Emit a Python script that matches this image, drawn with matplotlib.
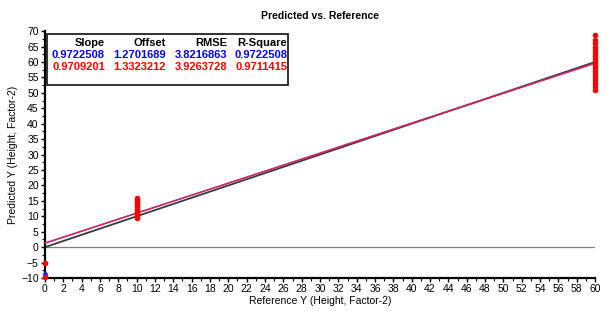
import matplotlib
matplotlib.use("Agg")
import matplotlib.pyplot as plt
from matplotlib.ticker import MultipleLocator
from matplotlib.patches import Rectangle

plt.rcParams['font.family'] = ['Liberation Sans', 'DejaVu Sans']

title = "Predicted vs. Reference"
xlabel = "Reference Y (Height, Factor-2)"
ylabel = "Predicted Y (Height, Factor-2)"

table_headers = ["Slope", "Offset", "RMSE", "R-Square"]
blue_stats = ["0.9722508", "1.2701689", "3.8216863", "0.9722508"]
red_stats = ["0.9709201", "1.3323212", "3.9263728", "0.9711415"]

blue_slope, blue_offset = 0.9722508, 1.2701689
red_slope, red_offset = 0.9709201, 1.3323212

blue_x = [0, 60, 60]
blue_y = [-8.7, 53.6, 56.7]
red_x = [0, 0] + [10] * 14 + [60] * 18
red_y = ([-5.2, -9.6]
         + [9.5, 10, 10.5, 11, 11.5, 12, 12.5, 13, 13.5, 14, 14.5, 15, 15.5, 16]
         + [50.8, 52, 53, 54, 55, 56, 57, 58, 59, 60, 61, 62, 63, 64, 65, 66, 67, 68.6])

xmin, xmax = 0, 60
ymin, ymax = -10, 70

fig = plt.figure(figsize=(6.16, 3.11), dpi=100)
ax = fig.add_axes([0.073, 0.106, 0.893, 0.794])

ax.plot([xmin, xmax], [0, 0], color='#808080', lw=0.9, zorder=1)
ax.plot([xmin, xmax], [xmin, xmax], color='#3a3a3a', lw=1.3, zorder=2)
ax.plot([xmin, xmax], [blue_offset + blue_slope * xmin, blue_offset + blue_slope * xmax],
        color='#5050ff', lw=1.0, zorder=3)
ax.plot([xmin, xmax], [red_offset + red_slope * xmin, red_offset + red_slope * xmax],
        color='#e8204a', lw=1.0, zorder=4)

ax.scatter(blue_x, blue_y, s=12, color='#2020ff', zorder=5, clip_on=False, linewidths=0)
ax.scatter(red_x, red_y, s=16, color='#ff0000', zorder=6, clip_on=False, linewidths=0)

ax.set_xlim(xmin, xmax)
ax.set_ylim(ymin, ymax)
ax.xaxis.set_major_locator(MultipleLocator(2))
ax.xaxis.set_minor_locator(MultipleLocator(1))
ax.yaxis.set_major_locator(MultipleLocator(5))
ax.yaxis.set_minor_locator(MultipleLocator(2.5))
for s in ['top', 'right']:
    ax.spines[s].set_visible(False)
for s in ['left', 'bottom']:
    ax.spines[s].set_linewidth(1.6)
ax.tick_params(which='major', length=3, width=1, labelsize=7.5, pad=1.5)
ax.tick_params(which='minor', length=2, width=0.8)

ax.set_title(title, fontsize=7.5, fontweight='bold', pad=9)
ax.set_xlabel(xlabel, fontsize=7.5, labelpad=1)
ax.set_ylabel(ylabel, fontsize=7.5, labelpad=2)

box = Rectangle((0.004, 0.782), 0.437, 0.207, transform=ax.transAxes,
                facecolor='white', edgecolor='#222222', lw=1.3, zorder=7)
ax.add_patch(box)
col_x = [0.109, 0.22, 0.331, 0.44]
rows = [(table_headers, 'black', 0.95), (blue_stats, '#0000ff', 0.905), (red_stats, '#ff0000', 0.855)]
for texts, c, yy in rows:
    for xx, t in zip(col_x, texts):
        ax.text(xx, yy, t, transform=ax.transAxes, ha='right', va='center',
                fontsize=8, fontweight='bold', color=c, zorder=8)

fig.savefig("out.png", dpi=100)
